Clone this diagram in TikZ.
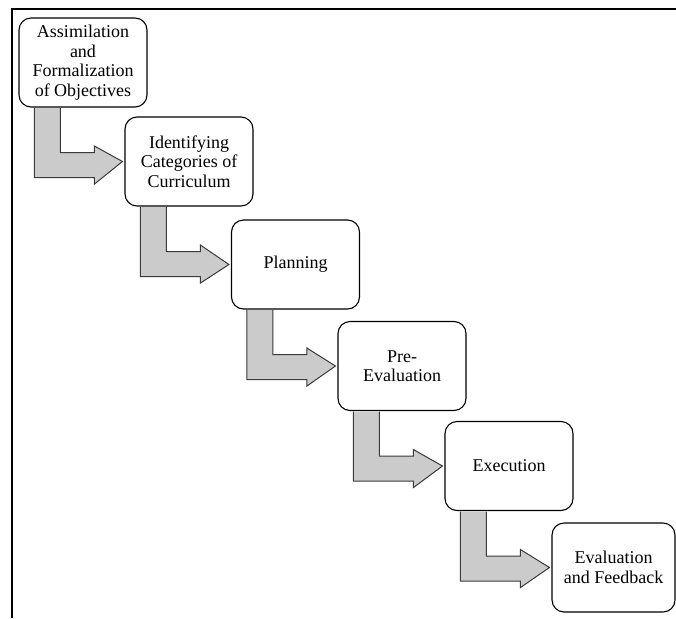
\documentclass[tikz,border=0pt]{standalone}
\usepackage{fontspec}
\setmainfont{Liberation Serif}
\usetikzlibrary{calc}
\definecolor{arrowfill}{HTML}{CBCBCB}
\definecolor{arrowline}{HTML}{3A3A3A}
\tikzset{
  stagebox/.style={draw=black, line width=1.1pt, rounded corners=12pt, fill=white,
    minimum width=128pt, minimum height=89pt, inner sep=2pt, align=center,
    font=\fontsize{18}{19.5}\selectfont},
  bentarrow/.style={fill=arrowfill, draw=arrowline, line width=1pt, line join=miter},
  frameline/.style={line width=2.4pt, draw=black}
}
\begin{document}
\begin{tikzpicture}[x=1pt, y=-1pt]
\useasboundingbox (0,0) rectangle (676,618);
\draw[frameline] (676,9) -- (12,9) -- (12,618);

\node[stagebox] (b1) at (83,62.5) {Assimilation\\and\\Formalization\\of Objectives};
\node[stagebox] (b2) at (189,161.5) {Identifying\\Categories of\\Curriculum};
\node[stagebox] (b3) at (295.5,264.5) {Planning};
\node[stagebox] (b4) at (402,366) {Pre-\\Evaluation};
\node[stagebox] (b5) at (509,466) {Execution};
\node[stagebox, minimum width=123pt] (b6) at (613.5,567.5) {Evaluation\\and Feedback};

\foreach \a/\b in {b1/b2, b2/b3, b3/b4, b4/b5, b5/b6}{
  \draw[bentarrow]
    ($(\a.south west)+(16,0.6)$) --
    ($(\a.south west)+(16,70)$) --
    ($(\a.south west)+(76,70)$) --
    ($(\a.south west)+(76,76.5)$) --
    ($(\b.west)+(-2,0)$) --
    ($(\a.south west)+(76,38.5)$) --
    ($(\a.south west)+(76,45)$) --
    ($(\a.south west)+(42,45)$) --
    ($(\a.south west)+(42,0.6)$);
}
\end{tikzpicture}
\end{document}
